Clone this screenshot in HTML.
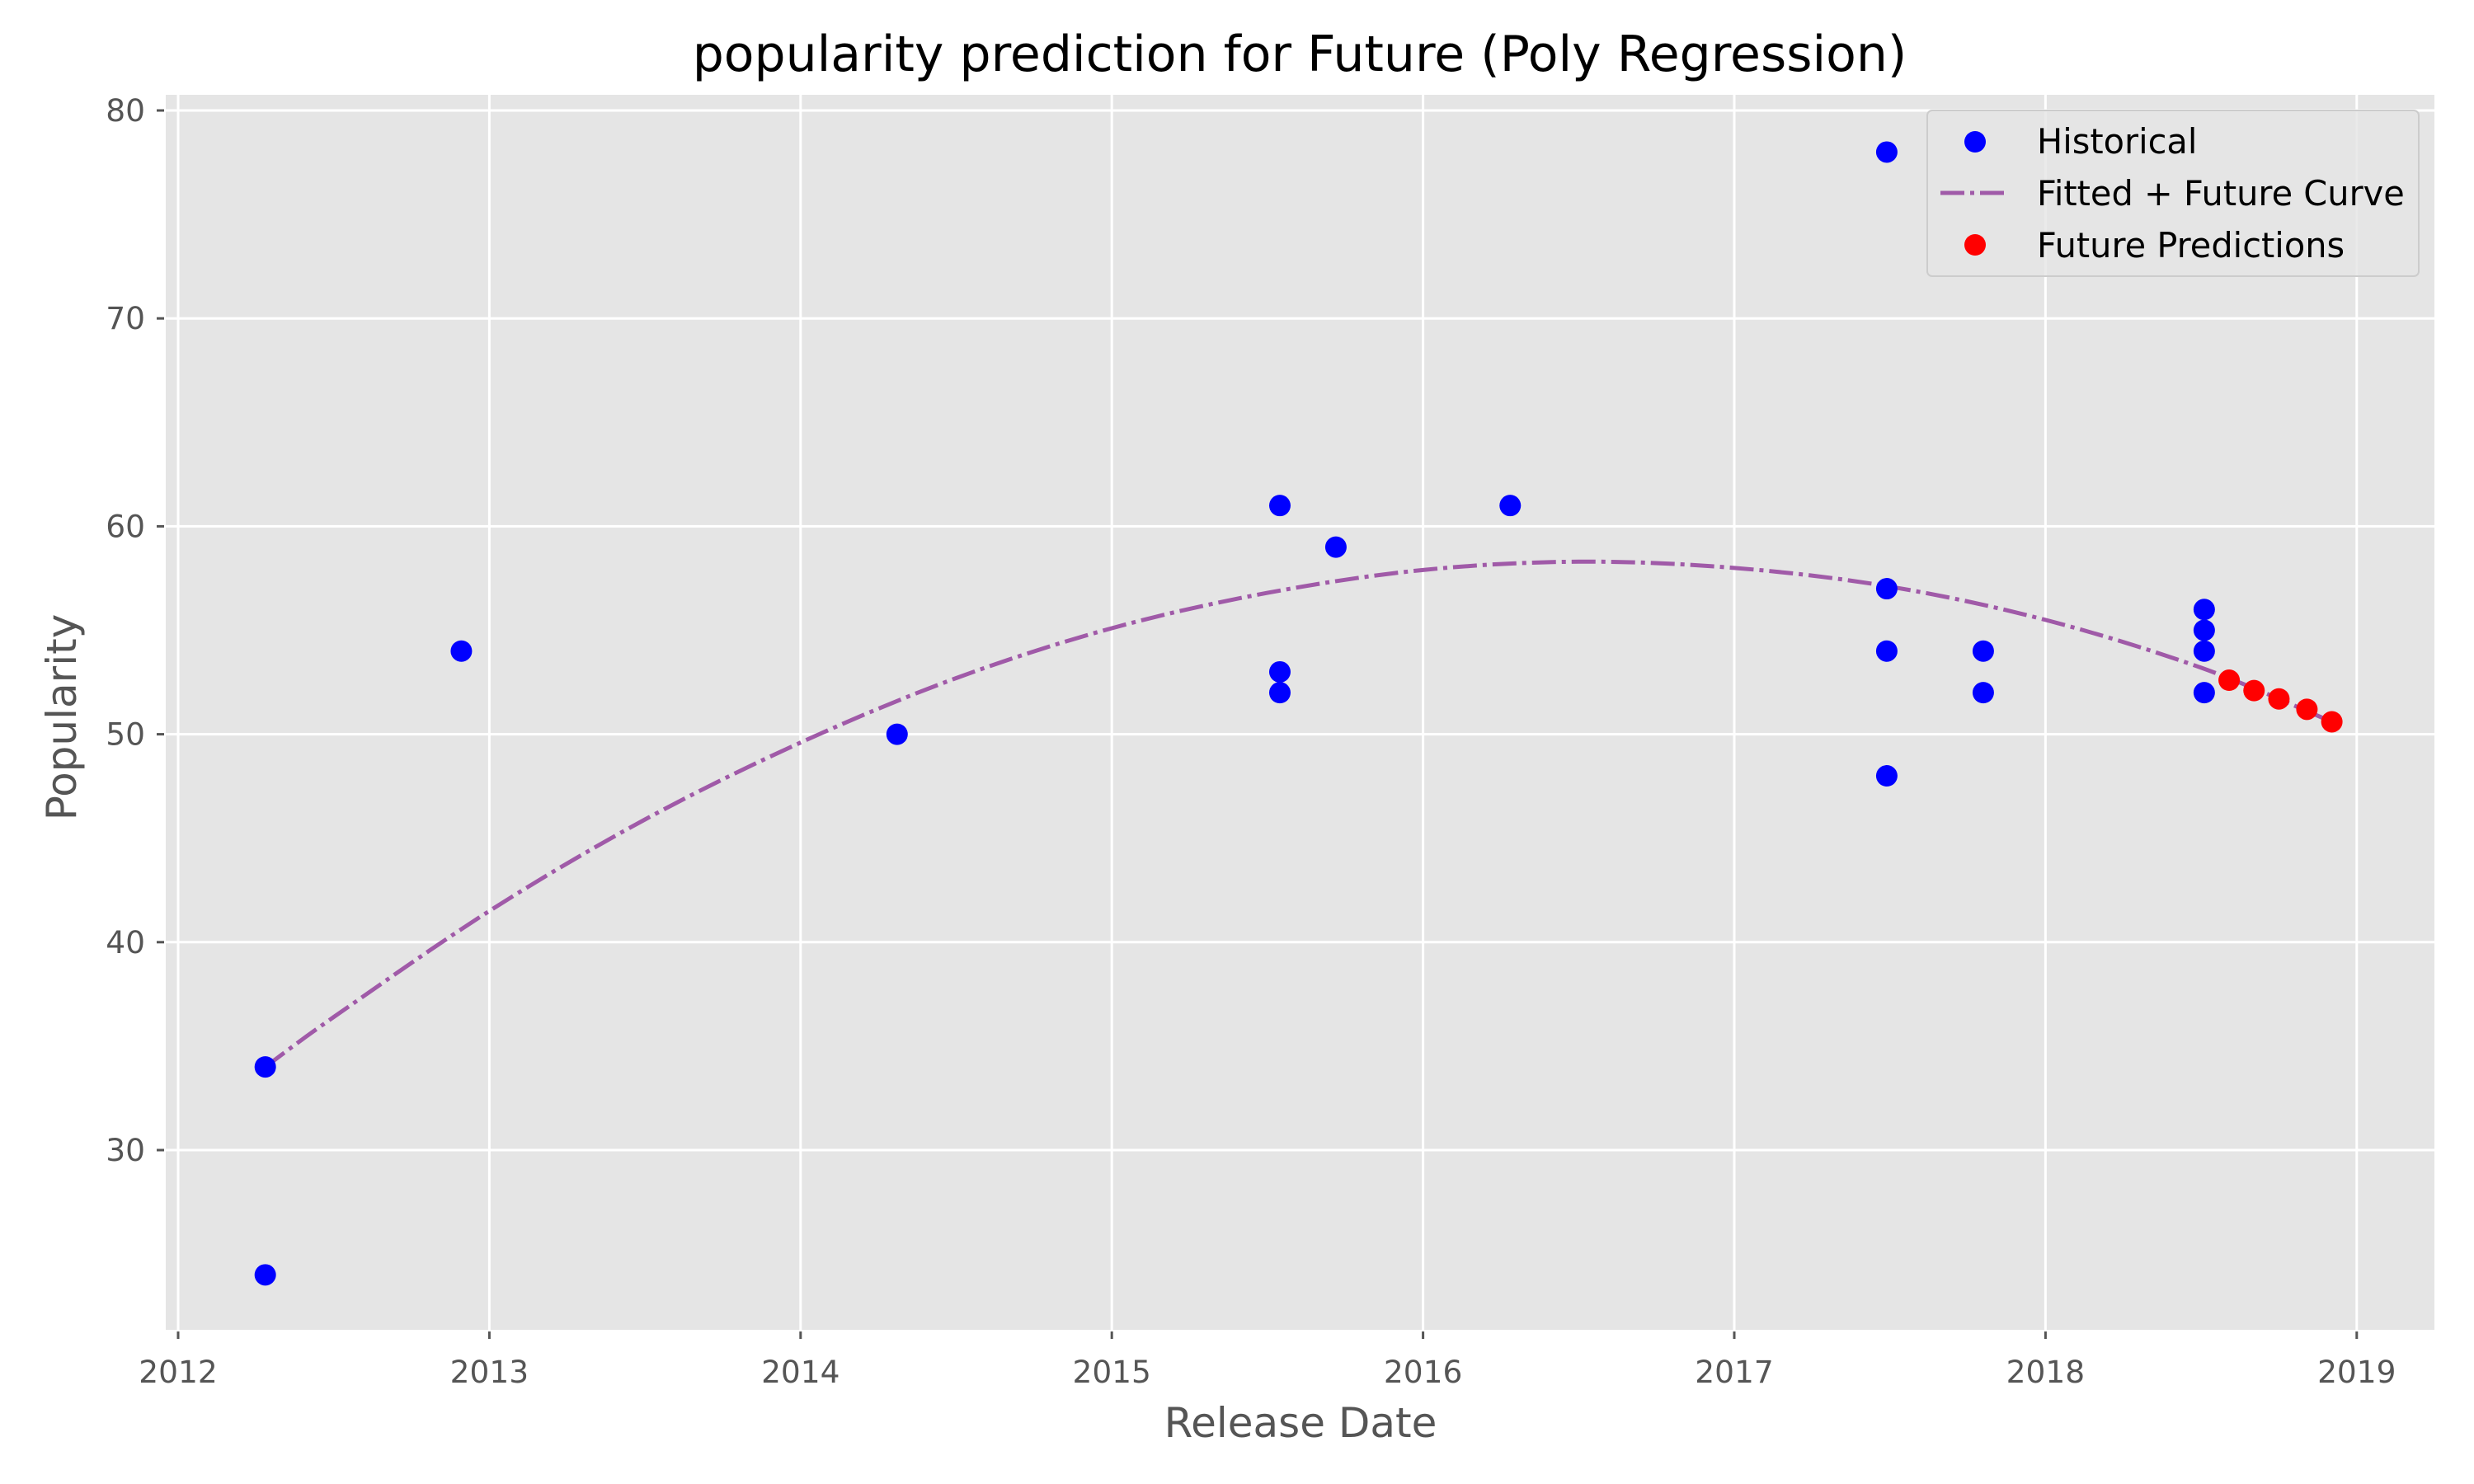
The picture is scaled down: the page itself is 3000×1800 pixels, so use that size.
<!DOCTYPE html>
<html><head><meta charset="utf-8"><style>
html,body{margin:0;padding:0;background:#fff;}
svg{display:block;font-family:"DejaVu Sans","Liberation Sans",sans-serif;}
</style></head><body>
<svg id="chart" width="3000" height="1800" viewBox="0 0 3000 1800">
<rect x="201" y="115" width="2751" height="1498" fill="#e5e5e5"/>
<g id="grid"></g><g id="ticks"></g><g id="curve"></g><g id="points"></g>
<text x="1576" y="86" font-size="60" text-anchor="middle" fill="#000">popularity prediction for Future (Poly Regression)</text>
<text x="1577" y="1743" font-size="50" text-anchor="middle" fill="#555">Release Date</text>
<text x="0" y="0" font-size="50" text-anchor="middle" fill="#555" transform="translate(92,870) rotate(-90)">Popularity</text>
<g>
<rect x="2337" y="134" width="596" height="201" rx="6" fill="#e5e5e5" fill-opacity="0.8" stroke="#ccc" stroke-width="2"/>
<circle cx="2395" cy="172" r="13" fill="#0000ff"/>
<text x="2470" y="186" font-size="41.5" fill="#000">Historical</text>
<line x1="2353" y1="234" x2="2437" y2="234" stroke="#a05aa8" stroke-width="5" stroke-dasharray="29,7,5,7"/>
<text x="2470" y="249" font-size="41.5" fill="#000">Fitted + Future Curve</text>
<circle cx="2395" cy="297" r="13" fill="#ff0000"/>
<text x="2470" y="312" font-size="41.5" fill="#000">Future Predictions</text>
</g>
</svg>
<script>
const xTicks=[2012,2013,2014,2015,2016,2017,2018,2019];
const yTicks=[30,40,50,60,70,80];
const histX=[2012.28,2012.28,2012.91,2014.31,2015.54,2015.54,2015.54,2015.72,2016.28,2017.49,2017.49,2017.49,2017.49,2017.80,2017.80,2018.51,2018.51,2018.51,2018.51];
const histY=[34,24,54,50,61,53,52,59,61,78,57,54,48,54,52,56,55,54,52];
const futX=[2018.59,2018.67,2018.75,2018.84,2018.92];
const futY=[52.6,52.1,51.7,51.2,50.6];
const curveX=[2012.28,2012.5,2013,2013.5,2014,2014.5,2015,2015.5,2016,2016.5,2017,2017.5,2018,2018.5,2018.92];
const curveY=[34,36.4,41.5,45.9,49.6,52.7,55.1,56.8,57.9,58.3,58.0,57.1,55.5,53.2,50.6];
const NS='http://www.w3.org/2000/svg';
const sx=v=>216+(v-2012)*377.4;
const sy=v=>134+(80-v)*25.22;
function mk(tag,attrs,parent){const e=document.createElementNS(NS,tag);for(const k in attrs)e.setAttribute(k,attrs[k]);document.getElementById(parent).appendChild(e);return e;}
xTicks.forEach(t=>{
  const g=mk('line',{x1:sx(t),x2:sx(t),y1:115,y2:1613,stroke:'#fff','stroke-width':3},'grid');
  
  
  const tk=mk('line',{x1:sx(t),x2:sx(t),y1:1615,y2:1624,stroke:'#555','stroke-width':3},'ticks');
  
  
  const l=mk('text',{x:sx(t),y:1677,'font-size':37.5,'text-anchor':'middle',fill:'#555'},'ticks');
  l.textContent=t;
  
  
});
yTicks.forEach(t=>{
  const g=mk('line',{x1:201,x2:2952,y1:sy(t),y2:sy(t),stroke:'#fff','stroke-width':3},'grid');
  
  
  const tk=mk('line',{x1:190,x2:199,y1:sy(t),y2:sy(t),stroke:'#555','stroke-width':3},'ticks');
  
  
  const l=mk('text',{x:176,y:sy(t)+13,'font-size':37.5,'text-anchor':'end',fill:'#555'},'ticks');
  l.textContent=t;
  
  
});
const P=curveX.map((x,i)=>[sx(x),sy(curveY[i])]);
let d='M'+P[0][0]+','+P[0][1];
for(let i=0;i<P.length-1;i++){
  const p0=P[i-1]||P[i],p1=P[i],p2=P[i+1],p3=P[i+2]||P[i+1];
  const c1=[p1[0]+(p2[0]-p0[0])/6,p1[1]+(p2[1]-p0[1])/6];
  const c2=[p2[0]-(p3[0]-p1[0])/6,p2[1]-(p3[1]-p1[1])/6];
  d+=' C'+c1+' '+c2+' '+p2;
}
const cp=mk('path',{d:d,fill:'none',stroke:'#a05aa8','stroke-width':5,'stroke-dasharray':'29,7,5,7'},'curve');


histX.forEach((x,i)=>{
  const c=mk('circle',{cx:sx(x),cy:sy(histY[i]),r:13,fill:'#0000ff'},'points');
  
  
});
futX.forEach((x,i)=>{
  const c=mk('circle',{cx:sx(x),cy:sy(futY[i]),r:13,fill:'#ff0000'},'points');
  
  
});
</script>
</body></html>
